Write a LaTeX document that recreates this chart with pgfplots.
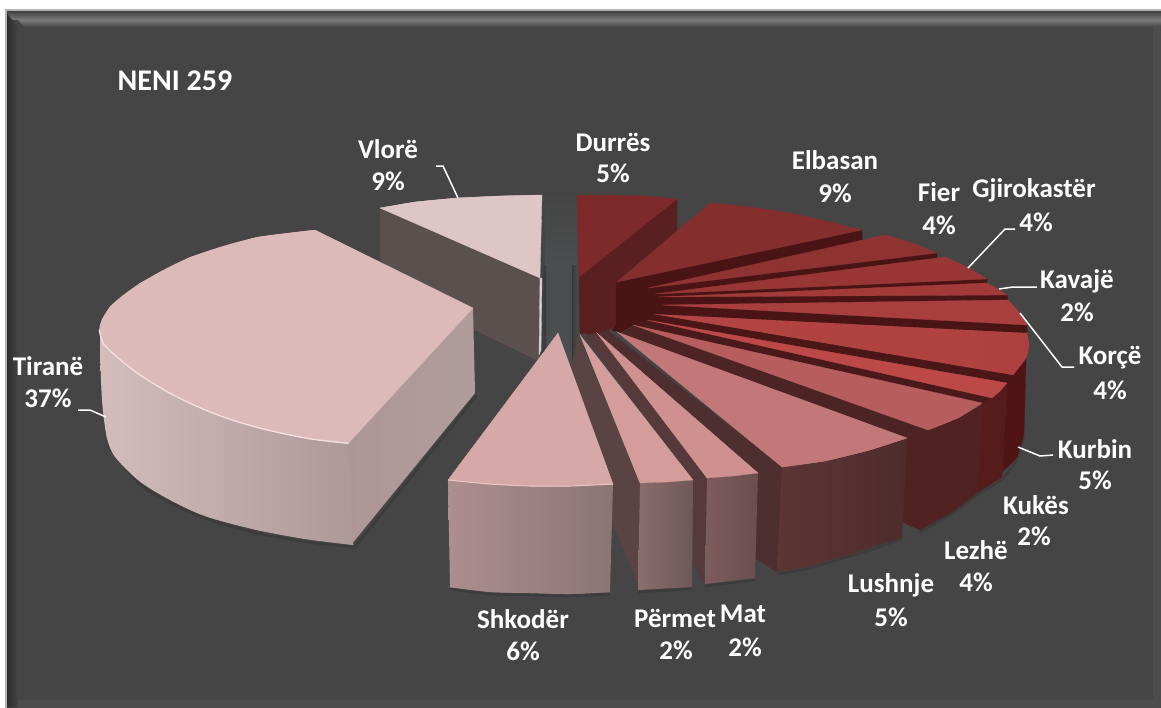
\documentclass[border=0pt]{standalone}
\usepackage{pgfplots}
\pgfplotsset{compat=1.18}
\usepackage{fontspec}
\setmainfont{Carlito}
\newcommand\C[1]{\definecolor{#1}{HTML}{#1}}
\C{D4BCBC}\C{AE9898}\C{AE9696}\C{B19C9C}\C{DCBABA}\C{F6E0E0}\C{5A504E}\C{D9CCCC}\C{DFC6C6}\C{5A2020}\C{7E2A2A}
\C{4A1414}\C{4A1616}\C{4A1A1A}\C{4D2424}\C{4E2F2F}\C{56393A}\C{5A4343}\C{501414}\C{561C1C}\C{512222}\C{5C3535}\C{4E2C2C}
\C{7D5C5C}\C{6A4E4E}\C{8A6D6D}\C{705757}\C{AD8E8E}\C{8C7474}\C{842E2E}\C{8E3232}\C{983636}\C{A23A3A}\C{A93E3E}\C{B54444}\C{AE4040}
\C{BD4848}\C{B85D5D}\C{C27878}\C{CF9090}\C{D59C9C}\C{D6A8A8}\C{EBC8C8}\C{4A4E4E}\C{3C3C3C}
\newcommand\Poly[2]{\addplot[fill=#1,draw=#1,line width=0.3pt] coordinates {#2} -- cycle;}
\newcommand\ArcF[2]{\addplot[smooth,fill=#1,draw=none] coordinates {#2};}
\newcommand\ArcG[3]{\addplot[smooth,left color=#1,right color=#2,draw=none] coordinates {#3};}
\newcommand\Grad[3]{\addplot[left color=#1,right color=#2,draw=none] coordinates {#3} -- cycle;}
\newcommand\GradV[3]{\addplot[top color=#1,bottom color=#2,draw=none] coordinates {#3} -- cycle;}
\newcommand\Lead[1]{\addplot[white,line width=1.5bp] coordinates {#1};}
\newcommand\Shad[1]{\addplot[smooth,3C3C3C,line width=2.5bp] coordinates {#1};}
\newcommand\Lab[3]{\node[text=white,font=\fontsize{27bp}{31bp}\selectfont\bfseries,inner sep=0pt] at (axis cs:#1,#2) {#3};}
\begin{document}
\begin{tikzpicture}
\begin{axis}[scale only axis,width=1161bp,height=707bp,xmin=0,xmax=1161,ymin=0,ymax=707,y dir=reverse,hide axis,clip=true]
% frame
\Poly{white}{(0,0)(1161,0)(1161,707)(0,707)}
\Poly{gray!60}{(5,9)(1161,9)(1161,707)(5,707)}
\Poly{black!73}{(7,11)(1161,11)(1161,707)(7,707)}
\GradV{black!72}{black!52}{(8,12)(1161,12)(1161,20)(8,20)}
\GradV{black!52}{black!73}{(18,20)(1161,20)(1161,27)(24,27)}
\Grad{black!82}{black!73}{(7,14)(18,26)(18,707)(7,707)}
\Poly{black!70}{(1153,27)(1161,27)(1161,707)(1153,707)}
\Poly{black!70}{(18,700)(1161,700)(1161,707)(18,707)}
% soft shadow strip in the middle
\GradV{black!73}{4A4E4E}{(545,190)(577,190)(577,265)(545,265)}
\Poly{4A4E4E}{(545,265)(577,265)(577,365)(545,365)}
\Grad{black!73}{black!78}{(540,265)(546,265)(546,355)(540,355)}
\Grad{black!78}{4A4E4E}{(572,265)(578,265)(578,362)(572,362)}
% Vlore
\Poly{5A504E}{(380,208)(540,278)(540,357)(537,360)(475,330)(380,260)}
\Poly{D9CCCC}{(540,278)(542,278)(541,350)(539,355)}
\Poly{DFC6C6}{(380,208)(415,202)(457,198)(500,196)(542,195)(540,278)}
\ArcF{DFC6C6}{(380,208)(415,202)(457,198)(500,196)(542,195)}
% Tirane
\Shad{(108,445)(140,484)(173,504)(207,519)(257,533)(307,542)(355,547)}
\addplot[3C3C3C,line width=2.5bp] coordinates {(355,547)(477,395)};
\Grad{AE9696}{B19C9C}{(346,443.3)(473,308)(475,393)(351,545)}
\Grad{D4BCBC}{AE9898}{(100,335)(348.3,443.3)(353.3,545)(256.7,530)(173.3,501.7)(115,456.7)(106.7,436.7)(100,347)}
\ArcG{D4BCBC}{AE9898}{(100,347)(102,400)(106.7,436.7)(115,456.7)(140,481.7)(173.3,501.7)(206.7,516.7)(256.7,530)(306.7,539.3)(353.3,545)}
\Poly{DCBABA}{(348.3,443.3)(306.7,438.3)(256.7,427.3)(173.3,395)(116.7,356.7)(99.3,330)(110,306.7)(140,283.3)(190,257.3)(256.7,237.3)(315,230)(473,308)}
\ArcF{DCBABA}{(348.3,443.3)(306.7,438.3)(256.7,427.3)(213.3,413.3)(173.3,395)(140,375)(116.7,356.7)(103.3,343.3)(99.3,330)(101.7,320)(110,306.7)(123.3,295)(140,283.3)(163.3,270)(190,257.3)(223.3,246)(256.7,237.3)(290,232.7)(315,230)}
\addplot[smooth,F6E0E0,line width=1.3bp] coordinates {(348.3,443.3)(306.7,438.3)(256.7,427.3)(213.3,413.3)(173.3,395)(140,375)(116.7,356.7)(103.3,343.3)(99.3,330)};
% Durres
\Poly{5A2020}{(579,277)(677,199)(677,231)(616,282)(616,325)(600,336)(580,333)}
\Poly{7E2A2A}{(577,195)(610,195)(645,196)(677,199)(579,277)}
% centre and walls
\Poly{4A1414}{(616,282)(648,288)(655,294)(658,297)(662,305)(653,314)(647,320)(633,325)(620,333)(612,330)(616,325)}
\Poly{4A1414}{(862,230)(862,241)(648,288)(617,282)}
\Poly{4A1414}{(937,253)(937,258)(655,294)(648,288)}
\Poly{4A1414}{(987,279)(987,284)(658,297)(655,294)}
\Poly{4A1414}{(1007,295)(1008,300)(662,305)(658,297)}
\Poly{4A1414}{(1027,325)(1027,333)(653,314)(662,305)}
\Poly{4A1616}{(1013,375)(1007,383)(647,320)(653,314)}
\Poly{4A1A1A}{(992,398)(982,404)(633,325)(647,320)}
\Poly{4D2424}{(928,430)(907,438)(620,335)(633,325)}
\Poly{4E2F2F}{(782,467)(777,572)(755,558)(757,473)(597,335)(607,330)}
\Poly{56393A}{(707,478)(703,583)(693,560)(693,480)(585,336)(597,333)}
\Poly{5A4343}{(578,335)(640,483)(640,588)(612,522)(612,484)(571,370)}
% shadows under the fronts
\Shad{(450,589)(490,594)(530,595)(570,596)(610,594)}
\Shad{(638,592)(692,589)}
\Shad{(705,586)(755,580)}
\Shad{(777,574)(810,568)(840,559)(870,550)(902,539)}
\Shad{(920,532)(950,515)(977,495)(1002,479)(1017,459)(1024,435)}
% front faces
\Poly{501414}{(1007,383)(1013,375)(1026,358)(1025,400)(1024,433)(1017,457)(1002,472)}
\ArcF{501414}{(1024,433)(1017,457)(1002,472)}
\Poly{561C1C}{(982,405)(1007,383)(1002,477)(977,493)}
\Poly{512222}{(907,438)(928,430)(958,418)(982,405)(977,493)(950,513)(920,530)(902,522)}
\ArcF{512222}{(977,493)(950,513)(920,530)}
\Grad{5C3535}{4E2C2C}{(782,467)(825,461)(870,450)(907,438)(902,537)(870,548)(840,557)(810,566)(777,572)}
\ArcG{5C3535}{4E2C2C}{(777,572)(810,566)(840,557)(870,548)(907,536)}
\Grad{7D5C5C}{6A4E4E}{(707,478)(733,476)(758,473)(755,578)(705,584)}
\Grad{8A6D6D}{705757}{(640,483)(667,482)(693,480)(692,587)(638,590)}
\Grad{AD8E8E}{8C7474}{(448,480)(490,484)(530,486)(570,486)(613,484)(610,592)(570,594)(530,593)(490,592)(450,587)}
\ArcG{AD8E8E}{8C7474}{(448,587)(490,592)(530,593)(570,594)(613,592)}
% top faces
\Poly{842E2E}{(617,282)(710,203)(750,207)(790,213)(830,222)(862,230)}
\ArcF{842E2E}{(710,203)(750,207)(790,213)(830,222)(862,230)}
\Poly{8E3232}{(648,288)(885,235)(912,243)(937,253)}
\ArcF{8E3232}{(885,235)(912,243)(937,253)}
\Poly{983636}{(655,294)(945,257)(967,267)(987,279)}
\ArcF{983636}{(945,257)(967,267)(987,279)}
\Poly{A23A3A}{(658,297)(987,283)(998,289)(1007,295)}
\Poly{A93E3E}{(662,305)(1008,300)(1018,311)(1027,325)}
\ArcF{A93E3E}{(1008,300)(1018,311)(1027,325)}
\Grad{B54444}{AE4040}{(653,314)(1027,333)(1029,345)(1026,358)(1013,375)}
\ArcF{AE4040}{(1027,333)(1029,345)(1026,358)(1013,375)}
\Poly{BD4848}{(647,320)(1007,383)(1000,391)(992,398)}
\Poly{B85D5D}{(633,325)(982,403)(958,418)(928,430)}
\ArcF{B85D5D}{(982,403)(958,418)(928,430)}
\Poly{C27878}{(617,332)(907,438)(870,450)(825,461)(782,467)}
\ArcF{C27878}{(907,438)(870,450)(825,461)(782,467)}
\Poly{CF9090}{(597,333)(758,473)(733,476)(707,478)}
\Poly{D59C9C}{(580,335)(693,480)(667,482)(640,483)}
\Poly{D6A8A8}{(558,333)(613,484)(570,486)(530,486)(490,484)(448,480)}
\ArcF{D6A8A8}{(613,484)(570,486)(530,486)(490,484)(448,480)}
\addplot[smooth,EBC8C8,line width=1bp] coordinates {(448,480)(490,484)(530,486)(570,486)(613,484)};
% leaders
\Lead{(436,166)(443,166)(458,198)}
\Lead{(968,268)(1005,229)(1015,229)}
\Lead{(999,289)(1013,287)(1037,287)}
\Lead{(1020,313)(1062,367)(1074,367)}
\Lead{(1018,447)(1040,456)(1053,455)}
\Lead{(78,410)(90,410)(106,417)}
% labels
\node[text=white,font=\fontsize{30bp}{34bp}\selectfont\bfseries,inner sep=0pt] at (axis cs:175,81) {NENI 259};
\Lab{388}{149}{Vlorë}\Lab{388}{181}{9\%}
\Lab{613}{142}{Durrës}\Lab{613}{173}{5\%}
\Lab{835}{160}{Elbasan}\Lab{835}{193}{9\%}
\Lab{939}{192}{Fier}\Lab{939}{225}{4\%}
\Lab{1034}{190}{Gjirokastër}\Lab{1036}{222}{4\%}
\Lab{1077}{281}{Kavajë}\Lab{1077}{312}{2\%}
\Lab{1110}{358}{Korçë}\Lab{1110}{390}{4\%}
\Lab{1095}{449}{Kurbin}\Lab{1095}{480}{5\%}
\Lab{1036}{505}{Kukës}\Lab{1034}{536}{2\%}
\Lab{976}{550}{Lezhë}\Lab{976}{582}{4\%}
\Lab{891}{585}{Lushnje}\Lab{891}{617}{5\%}
\Lab{743}{614}{Mat}\Lab{745}{647}{2\%}
\Lab{675}{618}{Përmet}\Lab{676}{650}{2\%}
\Lab{523}{619}{Shkodër}\Lab{523}{651}{6\%}
\Lab{48}{366}{Tiranë}\Lab{48}{398}{37\%}
\end{axis}
\end{tikzpicture}
\end{document}
